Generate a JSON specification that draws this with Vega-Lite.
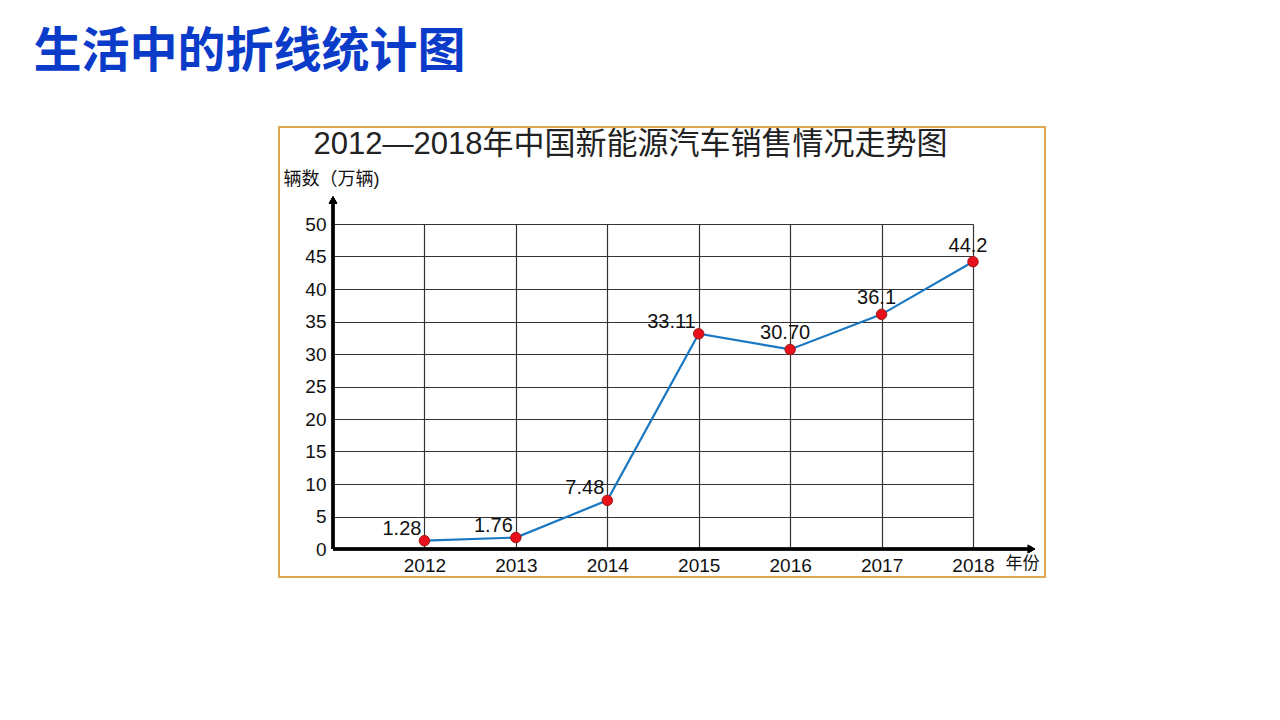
{
  "$schema": "https://vega.github.io/schema/vega-lite/v6.json",
  "width": 640,
  "height": 325,
  "autosize": "none",
  "padding": {"left": 333, "top": 224, "right": 307, "bottom": 171},
  "background": "white",
  "config": {"view": {"stroke": null}, "font": "Liberation Sans, Noto Sans CJK SC"},
  "data": {"values": [
    {"year": 2012, "sales": 1.28, "label": "1.28"},
    {"year": 2013, "sales": 1.76, "label": "1.76"},
    {"year": 2014, "sales": 7.48, "label": "7.48"},
    {"year": 2015, "sales": 33.11, "label": "33.11"},
    {"year": 2016, "sales": 30.70, "label": "30.70"},
    {"year": 2017, "sales": 36.1, "label": "36.1"},
    {"year": 2018, "sales": 44.2, "label": "44.2"}
  ]},
  "resolve": {"axis": {"x": "independent", "y": "independent"}},
  "layer": [
    {
      "mark": {"type": "rect", "fill": "transparent", "stroke": "#dba94e", "strokeWidth": 1.5},
      "encoding": {
        "x": {"datum": 2010.41, "type": "quantitative", "axis": null, "scale": {"domain": [2011, 2018], "nice": false, "zero": false}},
        "x2": {"datum": 2018.79},
        "y": {"datum": 64.92, "type": "quantitative", "axis": null, "scale": {"domain": [0, 50], "nice": false}},
        "y2": {"datum": -4.31}
      }
    },
    {
      "mark": {"type": "line", "color": "#1a78c2", "strokeWidth": 2.2},
      "encoding": {
        "x": {"field": "year", "type": "quantitative",
          "scale": {"domain": [2011, 2018], "nice": false, "zero": false},
          "axis": {"orient": "bottom", "values": [2012, 2013, 2014, 2015, 2016, 2017, 2018], "format": "d",
            "grid": true, "gridColor": "#333", "gridWidth": 1.2, "domain": false, "ticks": false,
            "labelFontSize": 19, "labelColor": "#111", "labelPadding": 7, "labelDx": -7, "labelFlush": false,
            "title": "年份", "titleX": 672, "titleY": 14, "titleAlign": "left", "titleBaseline": "middle",
            "titleFontSize": 17, "titleFontWeight": "normal", "titleColor": "#111"}},
        "y": {"field": "sales", "type": "quantitative",
          "scale": {"domain": [0, 50], "nice": false},
          "axis": {"orient": "left", "values": [0, 5, 10, 15, 20, 25, 30, 35, 40, 45, 50],
            "grid": true, "gridColor": "#333", "gridWidth": 1.2, "domain": false, "ticks": false,
            "labelFontSize": 19, "labelColor": "#111", "labelPadding": 7, "labelFlush": false,
            "title": "辆数（万辆)", "titleAngle": 0, "titleX": -50, "titleY": -45, "titleAlign": "left", "titleBaseline": "middle",
            "titleFontSize": 18, "titleFontWeight": "normal", "titleColor": "#111"}}
      }
    },
    {
      "mark": {"type": "rule", "color": "black", "strokeWidth": 2.5},
      "encoding": {
        "x": {"datum": 2011, "type": "quantitative", "axis": null},
        "x2": {"datum": 2018.6},
        "y": {"datum": 0, "type": "quantitative", "axis": null}
      }
    },
    {
      "mark": {"type": "rule", "color": "black", "strokeWidth": 2.5},
      "encoding": {
        "x": {"datum": 2011, "type": "quantitative", "axis": null},
        "y": {"datum": 0, "type": "quantitative", "axis": null},
        "y2": {"datum": 53.3}
      }
    },
    {
      "mark": {"type": "point", "shape": "triangle-right", "filled": true, "color": "black", "size": 70, "opacity": 1},
      "encoding": {
        "x": {"datum": 2018.64, "type": "quantitative", "axis": null},
        "y": {"datum": 0, "type": "quantitative", "axis": null}
      }
    },
    {
      "mark": {"type": "point", "shape": "triangle-up", "filled": true, "color": "black", "size": 70, "opacity": 1},
      "encoding": {
        "x": {"datum": 2011, "type": "quantitative", "axis": null},
        "y": {"datum": 53.7, "type": "quantitative", "axis": null}
      }
    },
    {
      "mark": {"type": "point", "shape": "circle", "filled": true, "fill": "#e8101a", "stroke": "#9b1b1b", "strokeWidth": 1, "size": 110, "opacity": 1},
      "encoding": {
        "x": {"field": "year", "type": "quantitative", "axis": null},
        "y": {"field": "sales", "type": "quantitative", "axis": null}
      }
    },
    {
      "transform": [{"filter": "datum.year <= 2015"}],
      "mark": {"type": "text", "align": "right", "baseline": "middle", "dx": -3, "dy": -12, "fontSize": 20, "color": "#111", "font": "Liberation Sans"},
      "encoding": {
        "x": {"field": "year", "type": "quantitative", "axis": null},
        "y": {"field": "sales", "type": "quantitative", "axis": null},
        "text": {"field": "label"}
      }
    },
    {
      "transform": [{"filter": "datum.year > 2015"}],
      "mark": {"type": "text", "align": "center", "baseline": "middle", "dx": -5, "dy": -16, "fontSize": 20, "color": "#111", "font": "Liberation Sans"},
      "encoding": {
        "x": {"field": "year", "type": "quantitative", "axis": null},
        "y": {"field": "sales", "type": "quantitative", "axis": null},
        "text": {"field": "label"}
      }
    },
    {
      "mark": {"type": "point", "opacity": 0},
      "encoding": {
        "x": {"field": "year", "type": "quantitative",
          "axis": {"orient": "top", "labels": false, "ticks": false, "domain": false, "grid": false,
            "title": "生活中的折线统计图", "titleX": -300, "titleY": -172, "titleAlign": "left", "titleBaseline": "middle",
            "titleFontSize": 48, "titleFontWeight": "bold", "titleColor": "#0a3bc9", "titleFont": "Noto Sans CJK SC"}},
        "y": {"field": "sales", "type": "quantitative",
          "axis": {"orient": "right", "labels": false, "ticks": false, "domain": false, "grid": false,
            "title": "2012—2018年中国新能源汽车销售情况走势图", "titleAngle": 0, "titleX": -660, "titleY": -80, "titleAlign": "left", "titleBaseline": "middle",
            "titleFontSize": 31, "titleFontWeight": "normal", "titleColor": "#222"}}
      }
    }
  ]
}
